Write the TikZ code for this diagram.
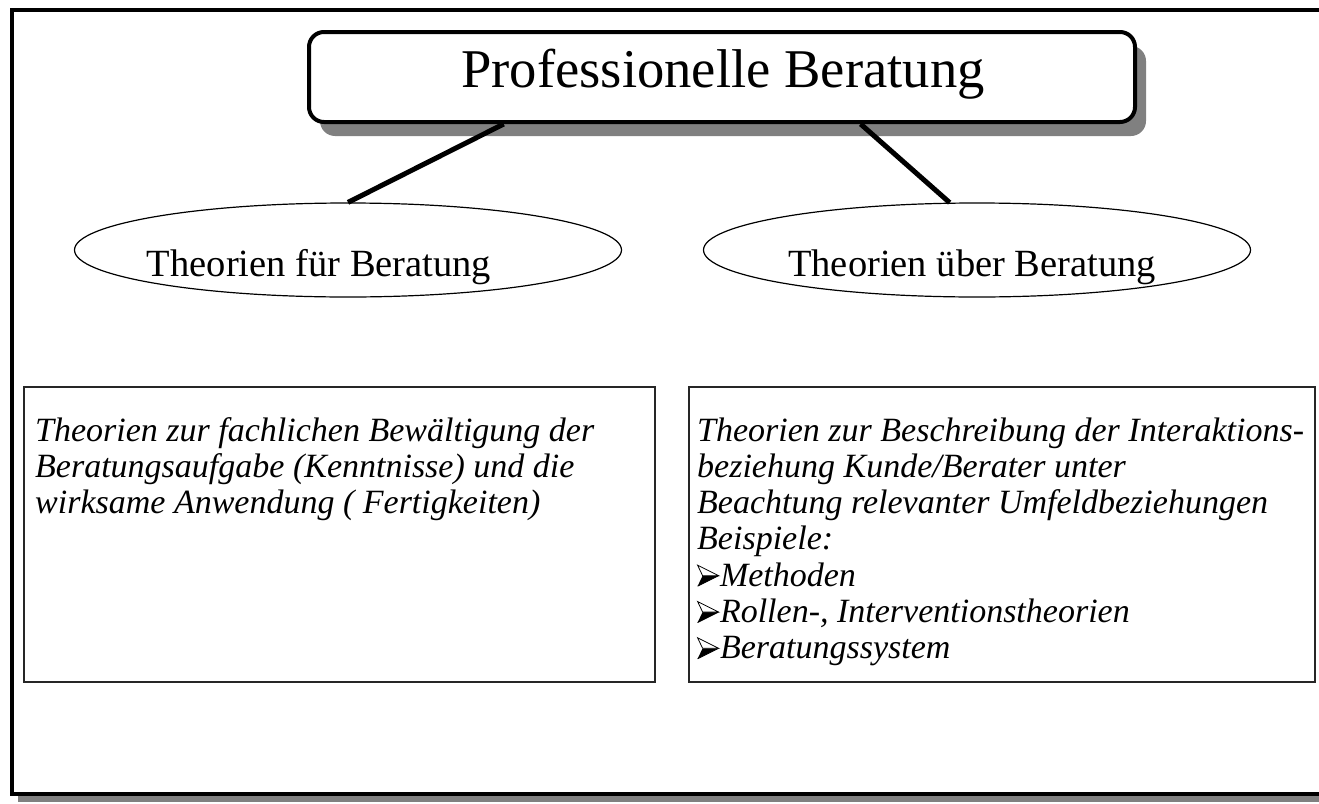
\documentclass[tikz,border=0pt]{standalone}
\usepackage{fontspec}
\setmainfont{Liberation Serif}
\usetikzlibrary{shapes.geometric,shadows,calc}
\definecolor{shgray}{gray}{0.5}
\newsavebox\bulbox
\newcommand{\arrbul}{\usebox\bulbox}
\begin{document}
\sbox\bulbox{\begin{pgfpicture}
  \pgfsetbaseline{0pt}
  \pgfpathmoveto{\pgfpoint{0pt}{0pt}}
  \pgfpathlineto{\pgfpoint{21pt}{10.5pt}}
  \pgfpathlineto{\pgfpoint{5pt}{10.5pt}}
  \pgfpathclose
  \pgfsetfillcolor{black}
  \pgfusepath{fill}
  \pgfsetlinewidth{0.8pt}
  \pgfsetmiterjoin
  \pgfpathmoveto{\pgfpoint{0pt}{21pt}}
  \pgfpathlineto{\pgfpoint{21pt}{10.5pt}}
  \pgfpathlineto{\pgfpoint{5pt}{10.5pt}}
  \pgfpathclose
  \pgfsetfillcolor{white}
  \pgfsetstrokecolor{black}
  \pgfusepath{fill,stroke}
  \pgfpathmoveto{\pgfpoint{0pt}{0pt}}
  \pgfpathlineto{\pgfpoint{21pt}{10.5pt}}
  \pgfusepath{stroke}
\end{pgfpicture}\hspace{1pt}}%
\begin{tikzpicture}[x=1pt,y=-1pt,
  titlebox/.style={draw=black,line width=4pt,rounded corners=15pt,fill=white,
    minimum width=826pt,minimum height=90pt,inner sep=0pt,
    drop shadow={shadow xshift=11pt,shadow yshift=-14pt,fill=shgray,opacity=1}},
  titletext/.style={inner sep=0pt,font=\fontsize{54.6}{60}\selectfont},
  ell/.style={draw=black,ellipse,line width=1.2pt,minimum width=547pt,minimum height=94pt,inner sep=0pt},
  elltext/.style={inner sep=0pt,font=\fontsize{38.5}{42}\selectfont},
  tbox/.style={draw=black!85,line width=1.6pt,inner sep=0pt},
  btext/.style={inner sep=0pt,align=left,font=\fontsize{34}{36.3}\selectfont\itshape},
  link/.style={line width=5pt,draw=black}
]
\clip (0,0) rectangle (1319,803);
\useasboundingbox (0,0) rectangle (1319,803);
% outer frame with shadow
\fill[shgray] (18,16) rectangle (1340,802);
\draw[line width=4pt,fill=white] (12,10) rectangle (1330,794);

% title
\node[titlebox] (title) at (722,77) {};
\node[titletext,anchor=base] (ttext) at (723,87) {Professionelle Beratung};

% ellipses
\node[ell] (e1) at (348,250) {};
\node[elltext,anchor=base] (t1) at (319,276) {Theorien für Beratung};
\node[ell] (e2) at (977,250) {};
\node[elltext,anchor=base] (t2) at (972,276) {Theorien über Beratung};

% connectors
\draw[link] ($(title.south west)!0.237!(title.south east)$) -- (e1.north);
\draw[link] ($(title.south west)!0.667!(title.south east)$) -- (e2.120);

% boxes
\node[tbox,minimum width=631pt,minimum height=295pt] (b1) at (339.5,534.5) {};
\node[tbox,minimum width=626pt,minimum height=295pt] (b2) at (1002,534.5) {};

\node[btext,anchor=base west] (l1) at (35,513.6) {Theorien zur fachlichen Bewältigung der\\Beratungsaufgabe (Kenntnisse) und die\\wirksame Anwendung ( Fertigkeiten)};
\node[btext,anchor=base west] (r1) at (697,658.8) {Theorien zur Beschreibung der Interaktions-\\beziehung Kunde/Berater unter\\Beachtung relevanter Umfeldbeziehungen\\Beispiele:\\\arrbul Methoden\\\arrbul Rollen-, Interventionstheorien\\\arrbul Beratungssystem};
\end{tikzpicture}
\end{document}
